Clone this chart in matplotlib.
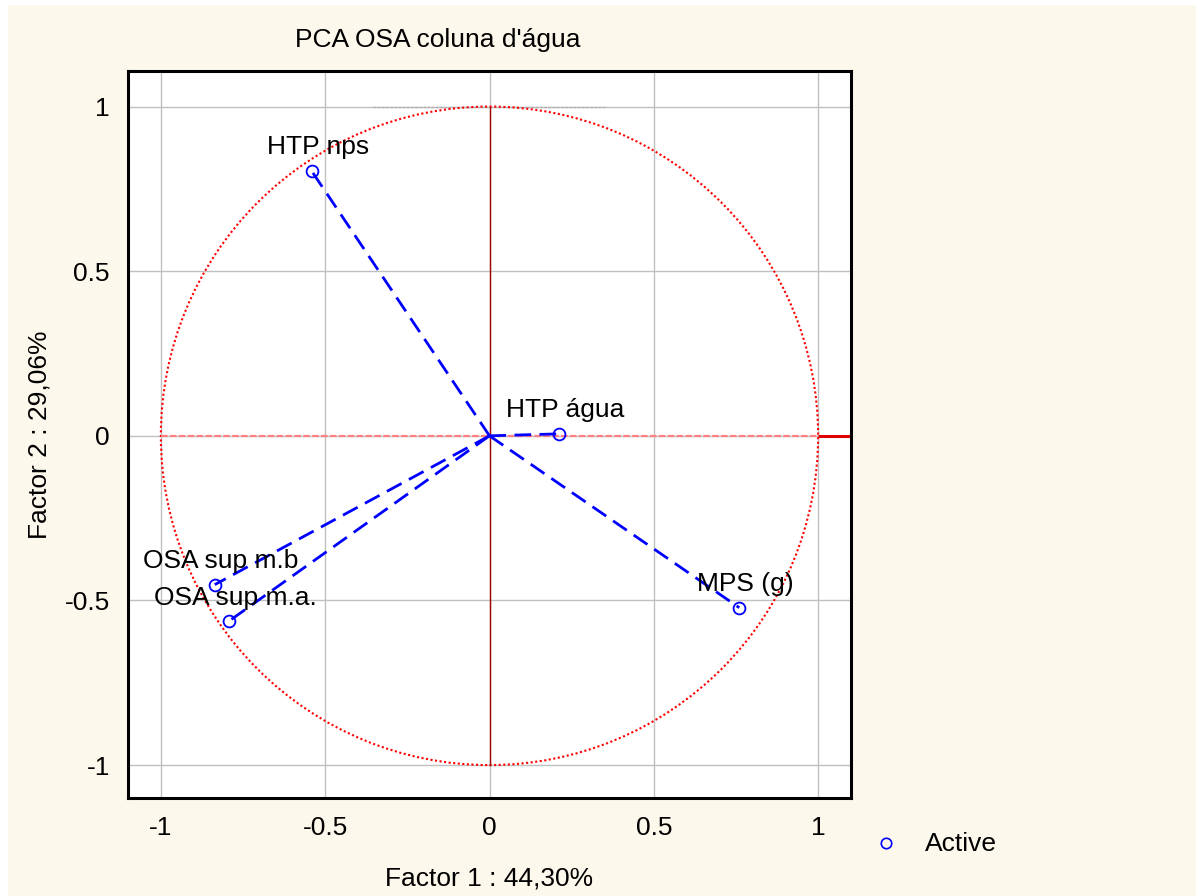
import numpy as np
import matplotlib
matplotlib.use("Agg")
import matplotlib.pyplot as plt
from matplotlib.patches import Circle, Rectangle
from matplotlib.lines import Line2D

plt.rcParams['font.family'] = ['Liberation Sans', 'DejaVu Sans']

variables = ["HTP nps", "HTP água", "MPS (g)", "OSA sup m.b", "OSA sup m.a."]
factor1 = [-0.541, 0.212, 0.760, -0.836, -0.793]
factor2 = [0.804, 0.006, -0.522, -0.452, -0.563]
ticks = [-1, -0.5, 0, 0.5, 1]
tick_labels = ["-1", "-0.5", "0", "0.5", "1"]

FS = 19
W, H = 1196, 896
fig = plt.figure(figsize=(W / 100, H / 100), dpi=100, facecolor='white')
fig.patches.append(Rectangle((8 / W, 0), 1, 1 - 5 / H, transform=fig.transFigure,
                             facecolor='#FDF8EC', edgecolor='none', zorder=-10))

ax = fig.add_axes([128 / W, 1 - 798 / H, (851 - 128) / W, (798 - 71) / H])
ax.set_facecolor('white')
ax.set_xlim(-1.1, 1.1)
ax.set_ylim(-1.1, 1.108)

ax.set_xticks(ticks)
ax.set_xticklabels(tick_labels)
ax.set_yticks(ticks)
ax.set_yticklabels(tick_labels)
ax.tick_params(length=0, labelsize=FS, pad=13)
ax.grid(True, color='#C0C0C0', lw=1)
ax.set_axisbelow(True)
for s in ax.spines.values():
    s.set_linewidth(2.2)
    s.set_color('black')

# top dashed artefact
ax.plot([-0.356, 0.353], [1.0, 1.0], color='#B0B0B0', lw=1, ls=(0, (2, 1)), zorder=1)

# unit circle
ax.add_patch(Circle((0, 0), 1, fill=False, ls=(0, (1, 1.2)), color='red', lw=1.5, zorder=2))
# axes lines
ax.plot([-1, 1], [0, 0], color='#FF8080', lw=1.6, ls=(0, (3, 1)), zorder=2)
ax.plot([1, 1.1], [0, 0], color='#E00000', lw=2.2, zorder=2, solid_capstyle='butt')
ax.plot([0, 0], [-1, 1], color='#A00000', lw=1, zorder=2)

# vectors
for x, y, lab in zip(factor1, factor2, variables):
    ax.plot([0, x], [0, y], color='blue', lw=2, ls=(0, (6, 3)), zorder=3)
    ax.plot([x], [y], marker='o', ms=8.5, mfc='none', mec='blue', mew=1.3, zorder=4)
    ax.annotate(lab, (x, y), xytext=(4.5, 17), textcoords='offset points',
                ha='center', va='center', fontsize=FS, color='black', zorder=5)

ax.set_xlabel("Factor 1 : 44,30%", fontsize=FS)
ax.set_ylabel("Factor 2 : 29,06%", fontsize=FS)
ax.xaxis.set_label_coords(0.5, -0.094)
ax.yaxis.set_label_coords(-0.106, 0.5)

fig.text(438 / W, 1 - 40 / H, "PCA OSA coluna d'água", fontsize=FS, ha='center', va='center')

# legend
fig.lines.append(Line2D([886 / W], [1 - 843 / H], transform=fig.transFigure, marker='o',
                        ms=7.5, mfc='none', mec='blue', mew=1.2, ls='none'))
fig.text(925 / W, 1 - 844 / H, "Active", fontsize=FS, ha='left', va='center')

fig.savefig("out.png", dpi=100, facecolor=fig.get_facecolor())
